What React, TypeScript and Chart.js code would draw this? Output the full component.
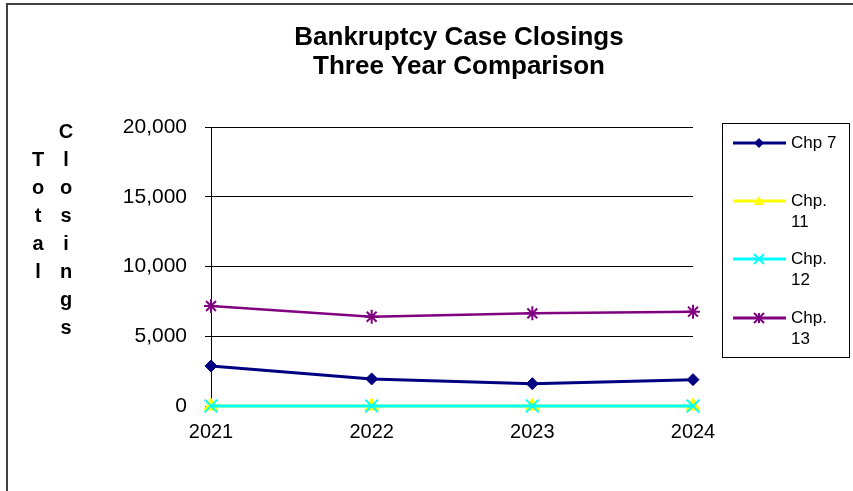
import React, { useEffect, useRef } from "react";
import { Chart, registerables } from "chart.js";

Chart.register(...registerables);

const years = ["2021", "2022", "2023", "2024"];
const seriesLabels = ["Chp 7", "Chp. 11", "Chp. 12", "Chp. 13"];
const chp7 = [2870, 1940, 1600, 1890];
const chp11 = [0, 0, 0, 0];
const chp12 = [0, 0, 0, 0];
const chp13 = [7170, 6400, 6640, 6760];
const yTicks = [0, 5000, 10000, 15000, 20000];
const titleLines = ["Bankruptcy Case Closings", "Three Year Comparison"];
const yTitleWords = ["Total", "Closings"];

const FONT = "'Liberation Sans', Arial, sans-serif";

const colors = ["#000080", "#FFFF00", "#00FFFF", "#800080"];
const markers = ["rectRot", "triangle", "crossRot", "star"];
const radii = [6, 8, 9, 7];

function drawMarker(ctx: any, style: string, x: number, y: number, r: number, color: string) {
  ctx.save();
  ctx.fillStyle = color;
  ctx.strokeStyle = color;
  ctx.lineWidth = 2;
  ctx.beginPath();
  if (style === "rectRot") {
    ctx.moveTo(x, y - r);
    ctx.lineTo(x + r, y);
    ctx.lineTo(x, y + r);
    ctx.lineTo(x - r, y);
    ctx.closePath();
    ctx.fill();
  } else if (style === "triangle") {
    ctx.moveTo(x, y - r);
    ctx.lineTo(x + r, y + r * 0.8);
    ctx.lineTo(x - r, y + r * 0.8);
    ctx.closePath();
    ctx.fill();
  } else if (style === "crossRot") {
    ctx.moveTo(x - r, y - r);
    ctx.lineTo(x + r, y + r);
    ctx.moveTo(x + r, y - r);
    ctx.lineTo(x - r, y + r);
    ctx.stroke();
  } else {
    ctx.moveTo(x - r, y - r);
    ctx.lineTo(x + r, y + r);
    ctx.moveTo(x + r, y - r);
    ctx.lineTo(x - r, y + r);
    ctx.moveTo(x, y - r);
    ctx.lineTo(x, y + r);
    ctx.stroke();
  }
  ctx.restore();
}

const decorPlugin = {
  id: "decor",
  beforeDraw(chart: any) {
    const ctx = chart.ctx;
    ctx.save();
    ctx.fillStyle = "#ffffff";
    ctx.fillRect(0, 0, chart.width, chart.height);
    ctx.strokeStyle = "#404040";
    ctx.lineWidth = 2;
    ctx.strokeRect(7, 4, chart.width + 20, chart.height + 20);
    ctx.restore();
  },
  afterDraw(chart: any) {
    const ctx = chart.ctx;
    ctx.save();
    // Title
    ctx.fillStyle = "#000";
    ctx.font = `bold 26px ${FONT}`;
    ctx.textAlign = "center";
    ctx.textBaseline = "middle";
    titleLines.forEach((t, i) => ctx.fillText(t, 459, 38 + i * 29));

    // Y title stacked letters
    ctx.font = `bold 20px ${FONT}`;
    const colX = [38, 66];
    const colY0 = [160, 132];
    yTitleWords.forEach((w, wi) => {
      w.split("").forEach((ch, ci) => {
        ctx.fillText(ch, colX[wi], colY0[wi] + ci * 28);
      });
    });

    // Legend
    const lx = 722.5, ly = 123.5, lw = 127, lh = 234;
    ctx.strokeStyle = "#000";
    ctx.lineWidth = 1;
    ctx.strokeRect(lx, ly, lw, lh);
    const rowY = [143, 201, 259, 318];
    ctx.font = `17px ${FONT}`;
    ctx.textAlign = "left";
    chart.data.datasets.forEach((ds: any, i: number) => {
      const y = rowY[i];
      ctx.strokeStyle = ds.borderColor;
      ctx.lineWidth = 3;
      ctx.beginPath();
      ctx.moveTo(733, y);
      ctx.lineTo(786, y);
      ctx.stroke();
      drawMarker(ctx, ds.pointStyle, 759, y, 5, ds.pointBackgroundColor);
      const words = ds.label.split(" ");
      const lines: string[] = [];
      let cur = "";
      words.forEach((w: string) => {
        const test = cur ? cur + " " + w : w;
        if (ctx.measureText(test).width > 54 && cur) {
          lines.push(cur);
          cur = w;
        } else cur = test;
      });
      if (cur) lines.push(cur);
      ctx.fillStyle = "#000";
      lines.forEach((l, li) => ctx.fillText(l, 791, y + li * 21.5));
    });
    ctx.restore();
  },
};

export default function App() {
  const ref = useRef<HTMLCanvasElement>(null);
  useEffect(() => {
    if (!ref.current) return;
    const series = [chp7, chp11, chp12, chp13];
    const orders = [0, 3, 2, 1];
    const chart = new Chart(ref.current, {
      type: "line",
      data: {
        labels: years,
        datasets: series.map((d, i) => ({
          label: seriesLabels[i],
          data: d,
          borderColor: colors[i],
          backgroundColor: colors[i],
          pointBackgroundColor: colors[i],
          pointBorderColor: colors[i],
          pointStyle: markers[i] as any,
          pointRadius: radii[i],
          pointBorderWidth: i >= 2 ? 2 : 1,
          borderWidth: i === 3 ? 2.5 : 3,
          tension: 0,
          fill: false,
          clip: false as any,
          order: orders[i],
        })),
      },
      options: {
        responsive: false,
        animation: false,
        layout: { padding: { left: 0, top: 127, right: 160, bottom: 0 } },
        plugins: {
          legend: { display: false },
          title: { display: false },
          tooltip: { enabled: false },
        },
        scales: {
          x: {
            offset: false,
            grid: { display: false, drawTicks: false },
            border: { display: true, color: "#000", width: 1 },
            ticks: {
              color: "#000",
              font: { family: FONT, size: 20 },
              padding: 14,
              maxRotation: 0,
            },
            afterFit(scale: any) {
              scale.height = 85;
            },
          },
          y: {
            min: 0,
            max: 20000,
            afterBuildTicks(scale: any) {
              scale.ticks = yTicks.map((v) => ({ value: v }));
            },
            grid: { color: "#000", lineWidth: 1, tickLength: 6, drawTicks: true },
            border: { display: true, color: "#000", width: 1 },
            ticks: {
              color: "#000",
              font: { family: FONT, size: 21 },
              padding: 18,
              callback: (v: any) => Number(v).toLocaleString("en-US"),
            },
            afterFit(scale: any) {
              scale.width = 211;
            },
          },
        },
      },
      plugins: [decorPlugin],
    });
    return () => chart.destroy();
  }, []);
  return (
    <div style={{ position: "absolute", left: 0, top: 0, width: 853, height: 491, overflow: "hidden" }}>
      <canvas ref={ref} width={853} height={491} style={{ display: "block" }} />
    </div>
  );
}
